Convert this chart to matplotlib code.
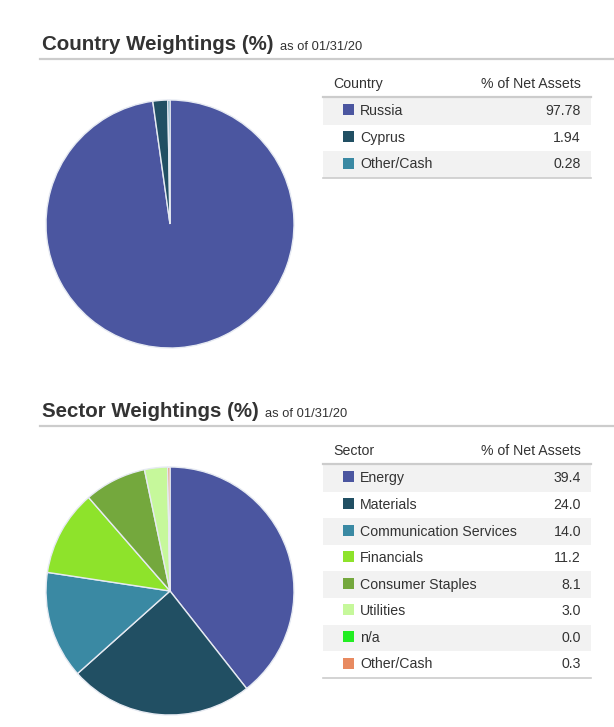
import matplotlib.pyplot as plt
from matplotlib.patches import Rectangle

plt.rcParams['font.family'] = ['Liberation Sans', 'DejaVu Sans']

# data
country_labels = ['Russia', 'Cyprus', 'Other/Cash']
country_values = [97.78, 1.94, 0.28]
country_text = ['97.78', '1.94', '0.28']
country_colors = ['#4b56a0', '#214f63', '#3a89a3']

sector_labels = ['Energy', 'Materials', 'Communication Services', 'Financials',
                 'Consumer Staples', 'Utilities', 'n/a', 'Other/Cash']
sector_values = [39.4, 24.0, 14.0, 11.2, 8.1, 3.0, 0.0, 0.3]
sector_text = ['39.4', '24.0', '14.0', '11.2', '8.1', '3.0', '0.0', '0.3']
sector_colors = ['#4b56a0', '#214f63', '#3a89a3', '#8ee32b', '#74a83d',
                 '#c6f89b', '#22ee22', '#e88a60']

W, H = 614, 727
fig = plt.figure(figsize=(W / 100, H / 100), dpi=100)
bg = fig.add_axes([0, 0, 1, 1])
bg.set_xlim(0, W)
bg.set_ylim(H, 0)
bg.axis('off')


def pie_axes(cx, cy, r):
    a = fig.add_axes([(cx - r) / W, 1 - (cy + r) / H, 2 * r / W, 2 * r / H])
    a.set_xlim(-1, 1)
    a.set_ylim(-1, 1)
    a.axis('off')
    return a


def section(ytitle, title, head, labels, texts, colors, ytable):
    t = bg.text(42, ytitle, title, fontsize=14.8, fontweight='bold',
                color='#333333', va='baseline')
    fig.canvas.draw()
    bb = t.get_window_extent().transformed(bg.transData.inverted())
    bg.text(bb.x1 + 6, ytitle, 'as of 01/31/20', fontsize=9.3, color='#333333',
            va='baseline')
    bg.plot([40, W], [ytitle + 9, ytitle + 9], color='#cccccc', lw=1.6)

    x0, x1 = 323, 591
    rh = 26.6
    bg.text(333, ytable - 12, head, fontsize=10.2, color='#333333', va='center')
    bg.text(581, ytable - 12, '% of Net Assets', fontsize=10.2, color='#333333',
            va='center', ha='right')
    bg.plot([x0, x1], [ytable + 1, ytable + 1], color='#cccccc', lw=1.6)
    for i, (lab, txt, c) in enumerate(zip(labels, texts, colors)):
        y = ytable + 2 + i * rh
        if i % 2 == 0:
            bg.add_patch(Rectangle((x0, y), x1 - x0, rh, color='#f2f2f2', lw=0))
        yc = y + rh / 2
        bg.add_patch(Rectangle((343, yc - 7), 11, 11, color=c, lw=0))
        bg.text(360, yc, lab, fontsize=10.2, color='#333333', va='center')
        bg.text(581, yc, txt, fontsize=10.2, color='#333333', va='center',
                ha='right')
    yb = ytable + 2 + len(labels) * rh
    bg.plot([x0, x1], [yb, yb], color='#cccccc', lw=1.2)


section(50, 'Country Weightings (%)', 'Country', country_labels, country_text,
        country_colors, 96)
section(417, 'Sector Weightings (%)', 'Sector', sector_labels, sector_text,
        sector_colors, 463)

ax1 = pie_axes(170, 224, 124)
ax1.pie(country_values, colors=country_colors, startangle=90, counterclock=False,
        wedgeprops=dict(edgecolor='#e6eaf2', linewidth=1))
ax1.set_xlim(-1, 1)
ax1.set_ylim(-1, 1)

ax2 = pie_axes(170, 591, 124)
ax2.pie(sector_values, colors=sector_colors, startangle=90, counterclock=False,
        wedgeprops=dict(edgecolor='#e6eaf2', linewidth=1))
ax2.set_xlim(-1, 1)
ax2.set_ylim(-1, 1)

fig.savefig('out.png', dpi=100)
